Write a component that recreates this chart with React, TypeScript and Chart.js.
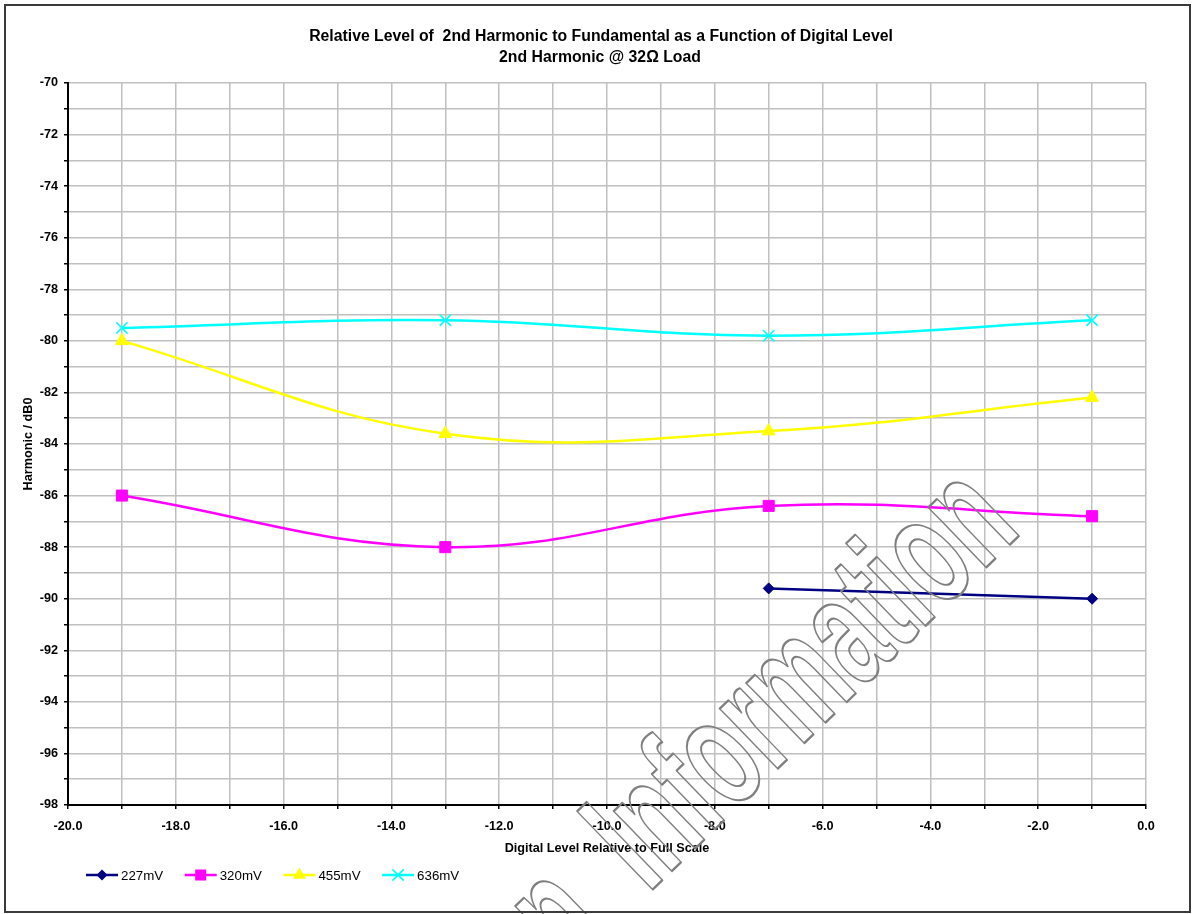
import React, { useEffect, useRef } from 'react';
import { Chart, registerables } from 'chart.js';

Chart.register(...registerables);

// ---- text ----
const TITLE_LINES = [
  'Relative Level of  2nd Harmonic to Fundamental as a Function of Digital Level',
  '2nd Harmonic @ 32\u03A9 Load',
];
const X_TITLE = 'Digital Level Relative to Full Scale';
const Y_TITLE = 'Harmonic / dB0';
const WATERMARK_PRE = 'Design  ';
const WATERMARK_MAIN = 'Information';

// ---- data ----
const seriesLabels = ['227mV', '320mV', '455mV', '636mV'];
const x227 = [-7, -1];
const y227 = [-89.6, -90.0];
const x320 = [-19, -13, -7, -1];
const y320 = [-86.0, -88.0, -86.4, -86.8];
const x455 = [-19, -13, -7, -1];
const y455 = [-80.0, -83.6, -83.5, -82.2];
const x636 = [-19, -13, -7, -1];
const y636 = [-79.5, -79.2, -79.8, -79.2];

// ---- axes ----
const X_MIN = -20;
const X_MAX = 0;
const Y_MIN = -98;
const Y_MAX = -70;
const STEP = 1;

const FONT = '"Liberation Sans", Arial, Helvetica, sans-serif';

const toPoints = (xs: number[], ys: number[]) => xs.map((x, i) => ({ x, y: ys[i] }));

function drawMarker(ctx: CanvasRenderingContext2D, style: string, x: number, y: number, r: number, color: string, lw: number) {
  ctx.save();
  ctx.fillStyle = color;
  ctx.strokeStyle = color;
  ctx.lineWidth = lw;
  ctx.beginPath();
  if (style === 'rectRot') {
    ctx.moveTo(x, y - r);
    ctx.lineTo(x + r, y);
    ctx.lineTo(x, y + r);
    ctx.lineTo(x - r, y);
    ctx.closePath();
    ctx.fill();
  } else if (style === 'rect') {
    const s = r * Math.SQRT1_2;
    ctx.rect(x - s, y - s, 2 * s, 2 * s);
    ctx.fill();
  } else if (style === 'triangle') {
    const h = r * 1.5;
    const w = r * Math.sqrt(3) / 2;
    ctx.moveTo(x, y - r);
    ctx.lineTo(x + w, y - r + h);
    ctx.lineTo(x - w, y - r + h);
    ctx.closePath();
    ctx.fill();
  } else if (style === 'crossRot') {
    const d = r * Math.SQRT1_2;
    ctx.moveTo(x - d, y - d);
    ctx.lineTo(x + d, y + d);
    ctx.moveTo(x + d, y - d);
    ctx.lineTo(x - d, y + d);
    ctx.stroke();
  }
  ctx.restore();
}

const decorPlugin = {
  id: 'decor',
  beforeDraw(chart: any) {
    const ctx = chart.ctx;
    ctx.save();
    ctx.fillStyle = '#ffffff';
    ctx.fillRect(0, 0, chart.width, chart.height);
    ctx.restore();
  },
  afterDraw(chart: any) {
    const ctx: CanvasRenderingContext2D = chart.ctx;
    const W = chart.width;
    // title
    ctx.save();
    ctx.fillStyle = '#000';
    ctx.textAlign = 'center';
    ctx.textBaseline = 'middle';
    ctx.font = `bold 15.8px ${FONT}`;
    ctx.fillText(TITLE_LINES[0], 601, 37);
    ctx.fillText(TITLE_LINES[1], 600, 58);
    ctx.restore();

    // legend
    ctx.save();
    const ly = 875;
    const lx0 = 86;
    const spacing = 98.7;
    chart.data.datasets.forEach((ds: any, i: number) => {
      const x0 = lx0 + i * spacing;
      ctx.save();
      ctx.strokeStyle = ds.borderColor;
      ctx.lineWidth = ds.borderWidth;
      ctx.beginPath();
      ctx.moveTo(x0, ly);
      ctx.lineTo(x0 + 32, ly);
      ctx.stroke();
      ctx.restore();
      drawMarker(ctx, ds.pointStyle, x0 + 16, ly, ds.pointRadius, ds.borderColor, ds.pointBorderWidth);
      ctx.fillStyle = '#000';
      ctx.font = `13.3px ${FONT}`;
      ctx.textAlign = 'left';
      ctx.textBaseline = 'middle';
      ctx.fillText(ds.label, x0 + 35, ly + 1);
    });
    ctx.restore();

    // watermark (outlined, rotated, condensed text)
    ctx.save();
    ctx.translate(648, 894);
    ctx.rotate((-44 * Math.PI) / 180);
    ctx.scale(0.6, 1);
    ctx.font = `bold 158px ${FONT}`;
    ctx.textBaseline = 'alphabetic';
    ctx.strokeStyle = '#7f7f7f';
    ctx.lineWidth = 2.3;
    ctx.lineJoin = 'round';
    ctx.textAlign = 'left';
    ctx.strokeText(WATERMARK_MAIN, 0, 0);
    ctx.textAlign = 'right';
    ctx.strokeText(WATERMARK_PRE, 0, 0);
    ctx.restore();

    // outer border
    ctx.save();
    ctx.strokeStyle = '#3a3a3a';
    ctx.lineWidth = 2;
    ctx.strokeRect(5, 5, W - 9, 907);
    ctx.restore();
  },
};

export default function App() {
  const canvasRef = useRef<HTMLCanvasElement | null>(null);

  useEffect(() => {
    const canvas = canvasRef.current;
    if (!canvas) return;
    const tickFont = { family: FONT, size: 12.67, weight: 'bold' as const };
    const common = {
      borderWidth: 2.5,
      tension: 0.4,
      cubicInterpolationMode: 'default' as const,
      fill: false,
      clip: false as const,
    };
    const chart = new Chart(canvas, {
      type: 'line',
      data: {
        datasets: [
          {
            ...common,
            label: seriesLabels[0],
            data: toPoints(x227, y227),
            borderColor: '#000080',
            backgroundColor: '#000080',
            pointStyle: 'rectRot',
            pointRadius: 5.5,
            pointBorderWidth: 1,
          },
          {
            ...common,
            label: seriesLabels[1],
            data: toPoints(x320, y320),
            borderColor: '#ff00ff',
            backgroundColor: '#ff00ff',
            pointStyle: 'rect',
            pointRadius: 7.8,
            pointBorderWidth: 1,
          },
          {
            ...common,
            label: seriesLabels[2],
            data: toPoints(x455, y455),
            borderColor: '#ffff00',
            backgroundColor: '#ffff00',
            pointStyle: 'triangle',
            pointRadius: 7.5,
            pointBorderWidth: 1,
          },
          {
            ...common,
            label: seriesLabels[3],
            data: toPoints(x636, y636),
            borderColor: '#00ffff',
            backgroundColor: '#00ffff',
            pointStyle: 'crossRot',
            pointRadius: 8,
            pointBorderWidth: 1.6,
          },
        ] as any,
      },
      options: {
        responsive: false,
        animation: false,
        devicePixelRatio: 1,
        layout: { padding: { top: 83, left: 0, right: 48, bottom: 55 } },
        plugins: {
          legend: { display: false },
          title: { display: false },
          tooltip: { enabled: false },
        },
        scales: {
          x: {
            type: 'linear',
            min: X_MIN,
            max: X_MAX,
            afterFit: (s: any) => {
              s.height = 54;
            },
            ticks: {
              stepSize: STEP,
              autoSkip: false,
              maxRotation: 0,
              includeBounds: true,
              color: '#000',
              font: tickFont,
              padding: 10,
              callback: (v: any) => {
                const n = Math.round(Number(v));
                return n % 2 === 0 ? (n === 0 ? 0 : n).toFixed(1) : '';
              },
            },
            grid: {
              color: '#c0c0c0',
              lineWidth: 1.5,
              tickColor: '#000',
              tickLength: 4,
              tickWidth: 1.5,
            },
            border: { color: '#000', width: 2 },
            title: {
              display: true,
              text: X_TITLE,
              color: '#000',
              font: tickFont,
              padding: { top: 4, bottom: 3 },
            },
          },
          y: {
            type: 'linear',
            min: Y_MIN,
            max: Y_MAX,
            afterFit: (s: any) => {
              s.width = 68;
            },
            ticks: {
              stepSize: STEP,
              autoSkip: false,
              color: '#000',
              font: tickFont,
              padding: 6,
              callback: (v: any) => {
                const n = Math.round(Number(v));
                return n % 2 === 0 ? String(n) : '';
              },
            },
            grid: {
              color: '#c0c0c0',
              lineWidth: 1.5,
              tickColor: '#000',
              tickLength: 4,
              tickWidth: 1.5,
            },
            border: { color: '#000', width: 2 },
            title: {
              display: true,
              text: Y_TITLE,
              color: '#000',
              font: tickFont,
              padding: { top: 21, bottom: 0 },
            },
          },
        },
      } as any,
      plugins: [decorPlugin],
    });
    return () => chart.destroy();
  }, []);

  return (
    <div style={{ position: 'absolute', left: 0, top: 0, width: 1194, height: 914 }}>
      <canvas ref={canvasRef} width={1194} height={914} style={{ display: 'block' }} />
    </div>
  );
}
